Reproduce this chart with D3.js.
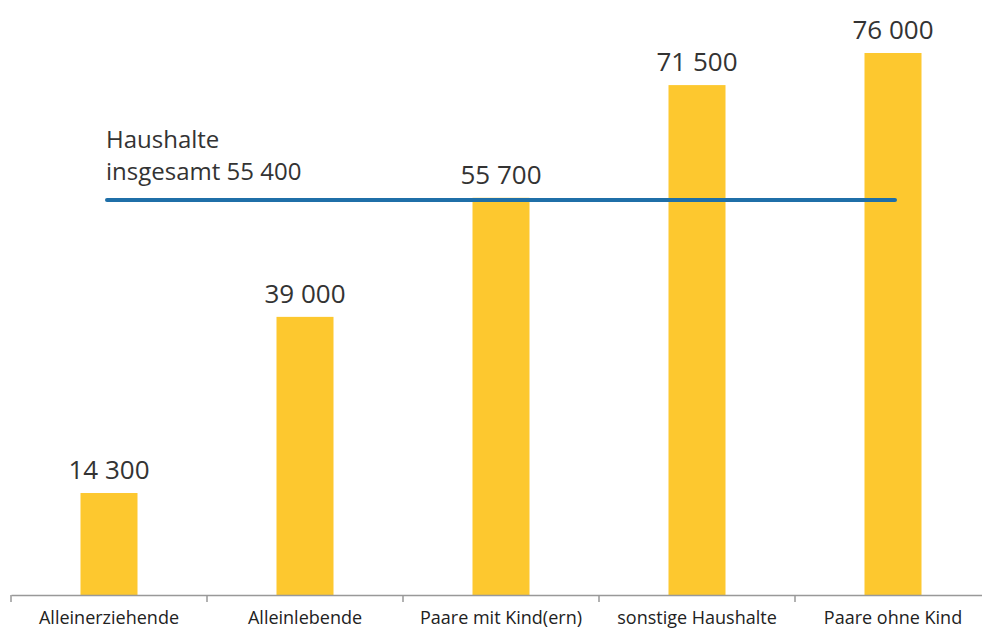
<!DOCTYPE html>
<html><head><meta charset="utf-8">
<script src="https://cdn.jsdelivr.net/npm/d3@7"></script>
<style>body{margin:0;background:#fff;} svg{display:block;}</style>
</head><body>
<svg id="chart" width="982" height="629"></svg>
<script>
const categories = ["Alleinerziehende", "Alleinlebende", "Paare mit Kind(ern)", "sonstige Haushalte", "Paare ohne Kind"];
const values = [14300, 39000, 55700, 71500, 76000];
const valueLabels = ["14 300", "39 000", "55 700", "71 500", "76 000"];
const totalValue = 55400;
const totalLabel = ["Haushalte", "insgesamt 55 400"];

const svg = d3.select("#chart");
const font = "'Open Sans', sans-serif";
const x = d3.scaleBand().domain(categories).range([11, 991]).padding(0);
const y = d3.scaleLinear().domain([0, 76000]).range([595, 53]);
const barW = 57;

svg.selectAll("rect.bar").data(values).join("rect")
  .attr("x", (d, i) => x(categories[i]) + x.bandwidth() / 2 - barW / 2)
  .attr("y", d => y(d))
  .attr("width", barW)
  .attr("height", d => y(0) - y(d))
  .attr("fill", "#fdc82f");

svg.selectAll("text.val").data(values).join("text")
  .attr("x", (d, i) => x(categories[i]) + x.bandwidth() / 2)
  .attr("y", d => y(d) - 14)
  .attr("text-anchor", "middle")
  .attr("font-family", font).attr("font-size", 26).attr("fill", "#333")
  .text((d, i) => valueLabels[i]);

// axis
const axis = d3.axisBottom(x).tickSize(0).tickPadding(0);
const gx = svg.append("g").attr("transform", "translate(0,595)").call(axis);
gx.select(".domain").attr("stroke", "#999").attr("stroke-width", 1.5);
gx.selectAll(".tick text").remove();
// boundary ticks
const bounds = categories.map(c => x(c));
svg.selectAll("line.bt").data(bounds).join("line")
  .attr("x1", d => d).attr("x2", d => d).attr("y1", 595).attr("y2", 602)
  .attr("stroke", "#999").attr("stroke-width", 1.5);
svg.selectAll("text.cat").data(categories).join("text")
  .attr("x", d => x(d) + x.bandwidth() / 2)
  .attr("y", 624)
  .attr("text-anchor", "middle")
  .attr("font-family", font).attr("font-size", 18).attr("fill", "#222")
  .text(d => d);

// total line
svg.append("line")
  .attr("x1", x(categories[0]) + x.bandwidth() / 2 - 2)
  .attr("x2", x(categories[4]) + x.bandwidth() / 2 + 2)
  .attr("y1", y(totalValue)).attr("y2", y(totalValue))
  .attr("stroke", "#1f6fa8").attr("stroke-width", 4).attr("stroke-linecap", "round");

svg.selectAll("text.tot").data(totalLabel).join("text")
  .attr("x", 106)
  .attr("y", (d, i) => 148 + i * 32)
  .attr("font-family", font).attr("font-size", 24).attr("fill", "#333")
  .text(d => d);
</script>
</body></html>
